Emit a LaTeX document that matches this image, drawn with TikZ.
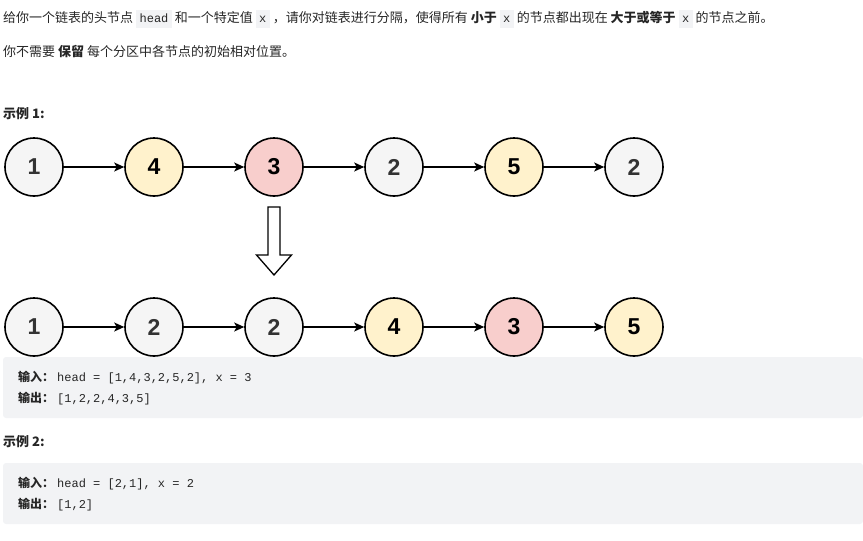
\documentclass[tikz,border=0pt]{standalone}
\usepackage{fontspec}
\setmainfont{Noto Sans CJK SC}
\setmonofont{Liberation Mono}
\newfontfamily\numfont{Liberation Sans}
\usetikzlibrary{arrows.meta, positioning}

\definecolor{txtgray}{HTML}{262626}
\definecolor{codebg}{HTML}{F2F3F5}
\definecolor{nodegray}{HTML}{F5F5F5}
\definecolor{nodeyellow}{HTML}{FFF2CC}
\definecolor{nodered}{HTML}{F8CECC}
\definecolor{numgray}{HTML}{333333}

\setlength{\fboxsep}{3.5pt}
\newcommand{\codebit}[1]{\colorbox{codebg}{\ttfamily\fontsize{12}{12}\selectfont\vphantom{hg}#1}}

\begin{document}
\begin{tikzpicture}[
    x=1pt, y=-1pt,
    >={Stealth[length=10pt, width=9pt, inset=2.5pt]},
    listnode/.style={draw, circle, line width=1.6pt, minimum size=58pt, inner sep=0pt, font=\numfont\bfseries\fontsize{23}{23}\selectfont},
    graynode/.style={listnode, fill=nodegray, text=numgray},
    yellownode/.style={listnode, fill=nodeyellow},
    rednode/.style={listnode, fill=nodered},
    link/.style={->, line width=1.4pt},
    para/.style={anchor=base west, inner sep=0pt, text=txtgray, font=\fontsize{13}{15}\selectfont},
    codeline/.style={anchor=base west, inner sep=0pt, text=txtgray, font=\ttfamily\fontsize{12}{14}\selectfont},
    node distance=60.4pt
]
    \useasboundingbox (0,0) rectangle (863,541);

    % Texto do enunciado
    \node[para] (intro) at (3,22) {给你一个链表的头节点 \codebit{head} 和一个特定值 \codebit{x} ，请你对链表进行分隔，使得所有 \textbf{小于} \codebit{x} 的节点都出现在 \textbf{大于或等于} \codebit{x} 的节点之前。};
    \node[para] (keep) at (3,56) {你不需要 \textbf{保留} 每个分区中各节点的初始相对位置。};
    \node[para, font=\bfseries\fontsize{13}{15}\selectfont] (ex1) at (3,118) {示例 1:};

    % Lista original
    \node[graynode] (a1) at (34,167) {1};
    \node[yellownode, right=of a1] (a2) {4};
    \node[rednode, right=of a2] (a3) {3};
    \node[graynode, right=of a3] (a4) {2};
    \node[yellownode, right=of a4] (a5) {5};
    \node[graynode, right=of a5] (a6) {2};
    \foreach \i/\j in {1/2, 2/3, 3/4, 4/5, 5/6}
        \draw[link] (a\i) -- (a\j);

    % Seta vazada
    \draw[line width=1.3pt, fill=white] (268,207) -- (280,207) -- (280,255) -- (291.5,255) -- (274,275) -- (256.5,255) -- (268,255) -- cycle;

    % Lista particionada
    \node[graynode] (b1) at (34,327) {1};
    \node[graynode, right=of b1] (b2) {2};
    \node[graynode, right=of b2] (b3) {2};
    \node[yellownode, right=of b3] (b4) {4};
    \node[rednode, right=of b4] (b5) {3};
    \node[yellownode, right=of b5] (b6) {5};
    \foreach \i/\j in {1/2, 2/3, 3/4, 4/5, 5/6}
        \draw[link] (b\i) -- (b\j);

    % Blocos de código
    \fill[codebg, rounded corners=3pt] (3,357) rectangle (863,418);
    \node[codeline] (in1) at (18,381.5) {{\rmfamily\bfseries 输入：}\hspace{3pt}head = [1,4,3,2,5,2], x = 3};
    \node[codeline] (out1) at (18,402.5) {{\rmfamily\bfseries 输出：}\hspace{3pt}[1,2,2,4,3,5]};

    \node[para, font=\bfseries\fontsize{13}{15}\selectfont] (ex2) at (3,446) {示例 2:};

    \fill[codebg, rounded corners=3pt] (3,463) rectangle (863,524);
    \node[codeline] (in2) at (18,487.5) {{\rmfamily\bfseries 输入：}\hspace{3pt}head = [2,1], x = 2};
    \node[codeline] (out2) at (18,508.5) {{\rmfamily\bfseries 输出：}\hspace{3pt}[1,2]};
\end{tikzpicture}
\end{document}
